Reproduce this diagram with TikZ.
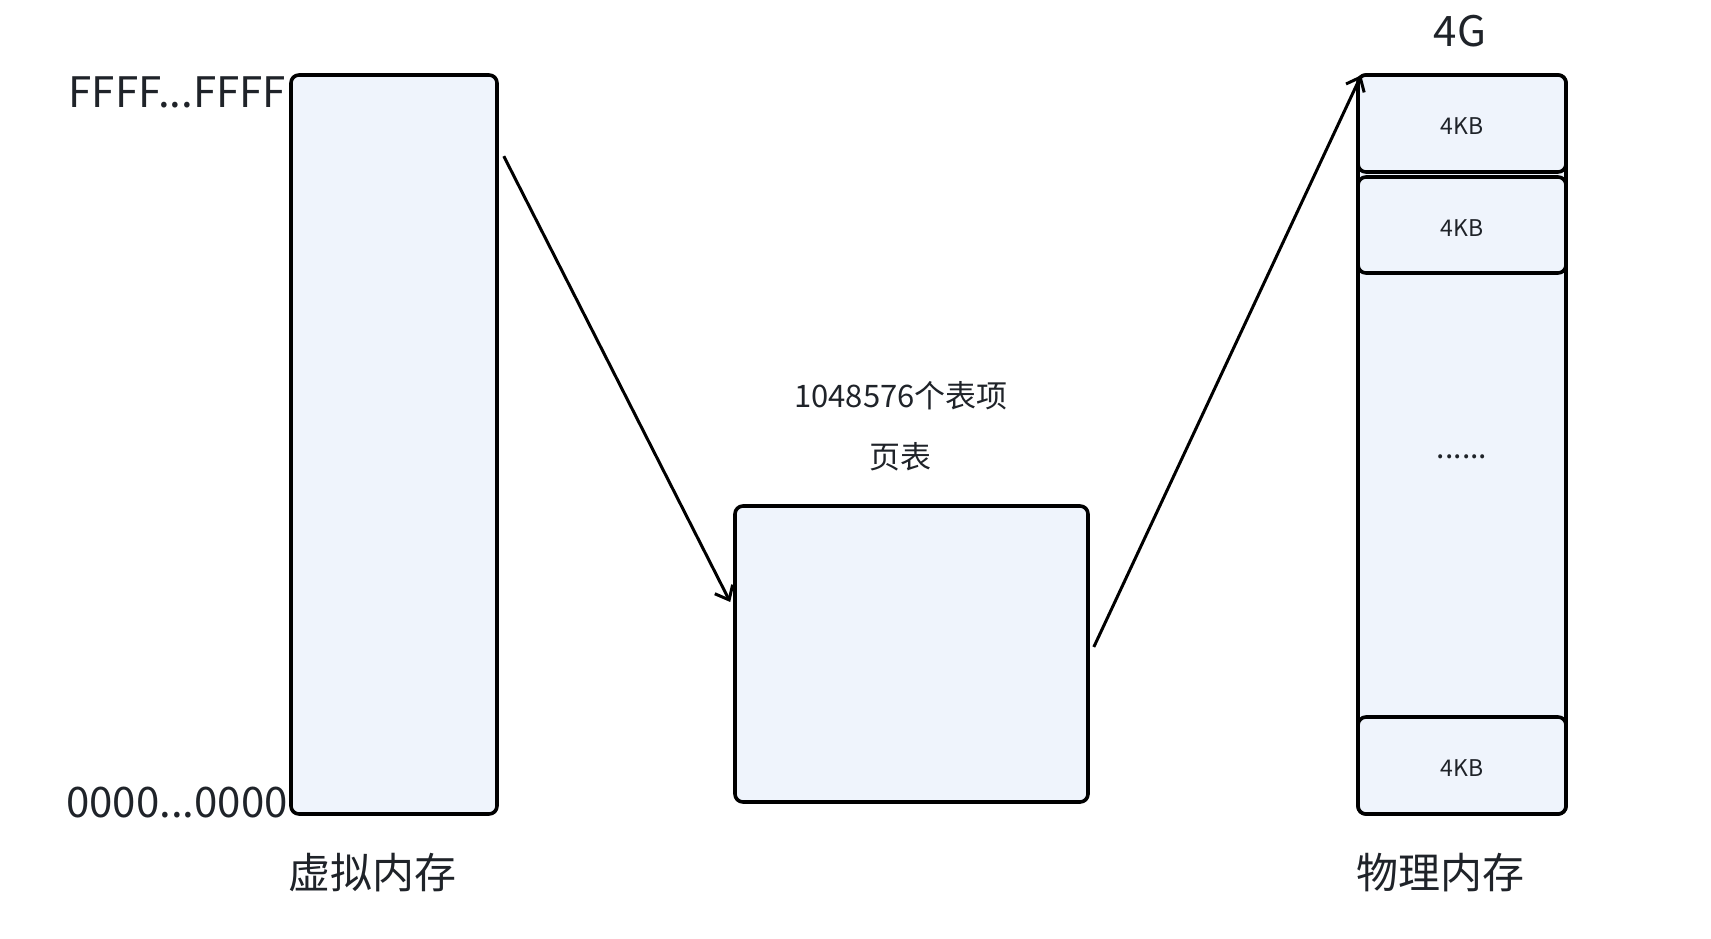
\documentclass[tikz,border=0pt]{standalone}
\usepackage{fontspec}
\setmainfont{Noto Sans CJK SC}
\usetikzlibrary{arrows.meta}
\definecolor{boxfill}{RGB}{239,244,252}
\definecolor{txtgray}{RGB}{31,35,41}
\begin{document}
\begin{tikzpicture}[x=1pt,y=-1pt,
            memcol/.style={rectangle,rounded corners=8pt,draw,line width=3.6pt,
                    fill=boxfill,inner sep=0pt},
            bigtxt/.style={text=txtgray,inner sep=0pt,font=\fontsize{42}{48}\selectfont},
            midtxt/.style={text=txtgray,inner sep=0pt,font=\fontsize{31}{36}\selectfont},
            smalltxt/.style={text=txtgray,inner sep=0pt,yshift=-3pt,font=\fontsize{23}{28}\selectfont},
            link/.style={line width=3pt,-{Straight Barb[length=12pt,width=20pt,line width=3pt]}},
        ]
        \useasboundingbox (0,0) rectangle (1711,938);

        % Virtual memory
        \node[memcol,minimum width=206pt,minimum height=739pt] (virt) at (394,444.5) {};
        \node[bigtxt,anchor=east] (vtop) at (286,92) {FFFF...FFFF};
        \node[bigtxt,anchor=east] (vbot) at (288,803) {0000...0000};
        \node[bigtxt] (vname) at (372,873) {虚拟内存};

        % Page table
        \node[memcol,minimum width=353pt,minimum height=296pt] (ptab) at (911.5,654) {};
        \node[midtxt] (pcount) at (901,396) {1048576个表项};
        \node[midtxt] (pname) at (900,457) {页表};

        % Physical memory
        \node[memcol,minimum width=208pt,minimum height=739pt] (phys) at (1462,444.5) {};
        \node[memcol,minimum width=208pt,minimum height=97pt] (frame1) at (1462,123.5) {};
        \node[memcol,minimum width=208pt,minimum height=96pt] (frame2) at (1462,225) {};
        \node[memcol,minimum width=208pt,minimum height=97pt] (frame3) at (1462,765.5) {};
        \node[smalltxt] at (frame1) {4KB};
        \node[smalltxt] at (frame2) {4KB};
        \node[smalltxt] at (frame3) {4KB};
        \node[text=txtgray,inner sep=0pt,anchor=base,font=\fontsize{30}{34}\selectfont] (gap) at (1462,458) {......};
        \node[bigtxt] (ptop) at (1460,31) {4G};
        \node[bigtxt] (pname2) at (1440,873) {物理内存};

        % Mapping arrows
        \draw[link] ([xshift=5pt,yshift=-83pt]virt.north east) -- ([xshift=-3pt,yshift=52pt]ptab.west);
        \draw[link] ([xshift=4pt,yshift=7pt]ptab.east) -- ([xshift=5pt,yshift=-2pt]phys.north west);

    \end{tikzpicture}
\end{document}
